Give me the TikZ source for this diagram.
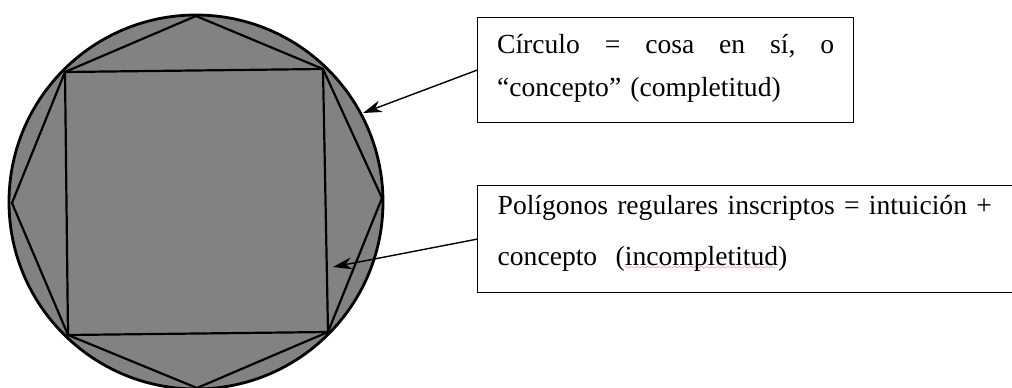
\documentclass[tikz,border=0pt]{standalone}
\usepackage{fontspec}
\setmainfont{Liberation Serif}
\usetikzlibrary{arrows.meta}
\definecolor{polygray}{RGB}{130,130,130}
\definecolor{spellred}{RGB}{225,40,40}
\font\wavefont=lasy7
\newsavebox\wavebox
\newcommand\redwave[1]{\sbox\wavebox{#1}\rlap{\textcolor{spellred}{\lower4pt\hbox to\wd\wavebox{\leaders\hbox{\wavefont\char58}\hfill}}}\usebox\wavebox}
\begin{document}
\begin{tikzpicture}[x=1pt,y=-1pt,
  shapeline/.style={line width=2.2pt, line join=round},
  textbox/.style={draw, line width=1.3pt, rectangle, anchor=north west, inner sep=0pt, align=left},
  pointer/.style={line width=1.4pt, -{Stealth[length=19pt,width=12pt]}}]
\useasboundingbox (0,0) rectangle (1012,388);
\clip (0,0) rectangle (1012,388);
\node[circle, draw, line width=2.8pt, fill=polygray, minimum size=374pt, inner sep=0pt] (circ) at (196,202) {};
\coordinate (T) at (196,16);
\coordinate (TR) at (323,69);
\coordinate (R) at (382,198);
\coordinate (BR) at (328,332);
\coordinate (B) at (197,388);
\coordinate (BL) at (68,335);
\coordinate (L) at (12,203);
\coordinate (TL) at (65,72);
\draw[shapeline] (T) -- (TR) -- (R) -- (BR) -- (B) -- (BL) -- (L) -- (TL) -- cycle;
\draw[shapeline] (TL) -- (TR) -- (BR) -- (BL) -- cycle;
\node[textbox, font=\fontsize{27.6}{43}\selectfont, minimum width=376pt, minimum height=105pt, text width=337pt] (b1) at (477,17)
  {\makebox[337pt][s]{Círculo\hfill=\hfill cosa\hfill en\hfill sí,\hfill o}\\“concepto” (completitud)\rule[-10pt]{0pt}{1pt}};
\node[textbox, font=\fontsize{27.6}{51}\selectfont, minimum width=560pt, minimum height=107pt, text width=520pt] (b2) at (477,185)
  {Polígonos regulares inscriptos = intuición +\\concepto\ \ (\redwave{incompletitud})\rule[-18pt]{0pt}{1pt}};
\coordinate (tip1) at (363,113);
\coordinate (tip2) at (333,267);
\draw[pointer] (b1.west) -- (tip1);
\draw[pointer] (b2.west) -- (tip2);
\end{tikzpicture}
\end{document}
